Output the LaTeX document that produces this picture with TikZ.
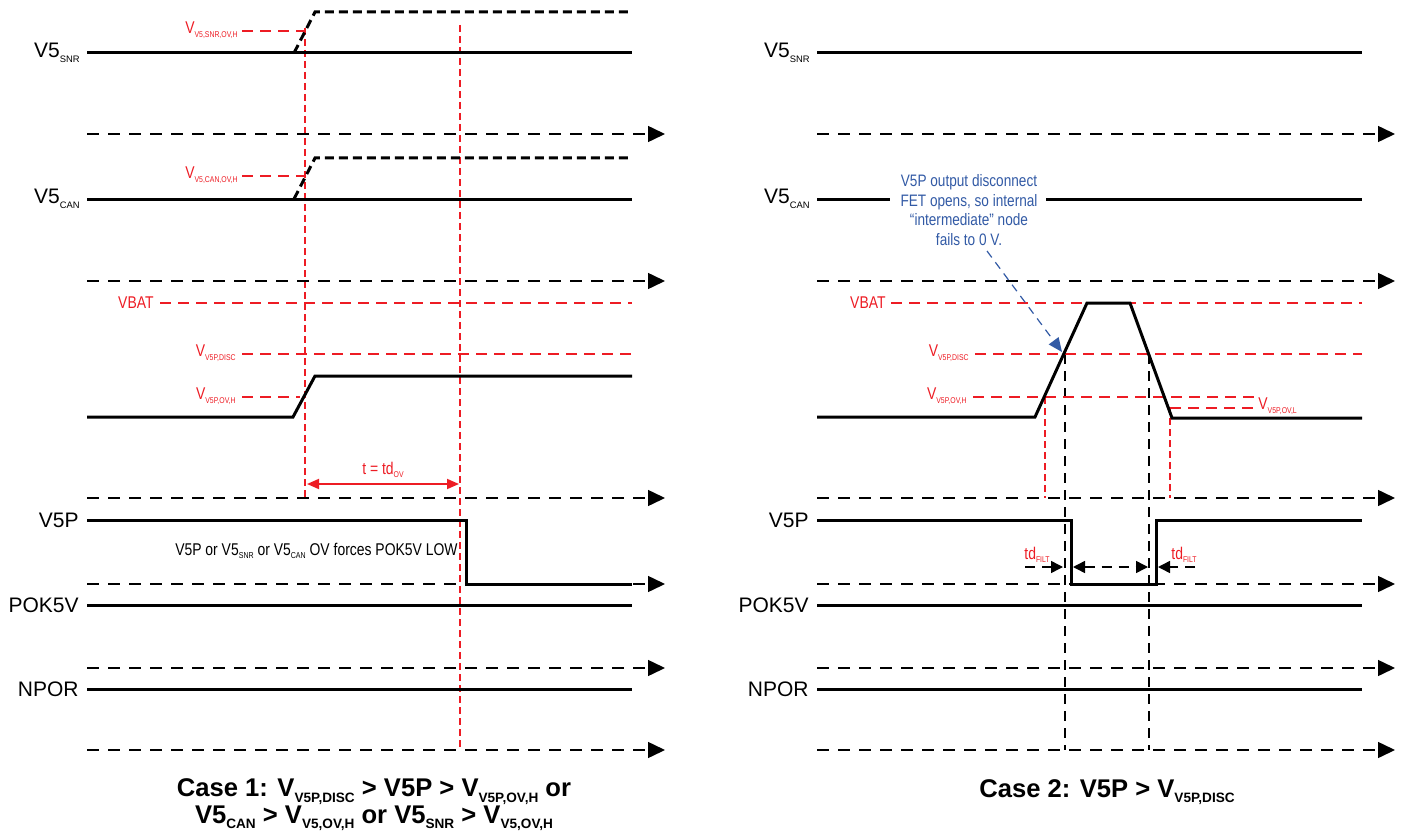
\documentclass[tikz,border=0pt]{standalone}
\usepackage{fontspec}
\setmainfont{Liberation Sans}
\newfontfamily\nfont[FakeStretch=0.82]{Liberation Sans}
\usetikzlibrary{arrows.meta}
\definecolor{tired}{RGB}{237,28,36}
\definecolor{tiblue}{RGB}{50,90,165}
\newcommand{\sbs}[2]{\raisebox{-0.4ex}{\fontsize{#1}{#1}\selectfont #2}}
\tikzset{
  sig/.style={line width=1.5pt, black},
  axis/.style={line width=0.75pt, dash pattern=on 6pt off 4.5pt, -{Triangle[length=8.5pt,width=8pt]}},
  hidash/.style={line width=1.5pt, dash pattern=on 4.5pt off 2.5pt},
  rlev/.style={tired, line width=0.6pt, dash pattern=on 5.5pt off 3.5pt},
  rvert/.style={tired, line width=0.6pt, dash pattern=on 3.5pt off 2pt},
  bvert/.style={line width=0.75pt, dash pattern=on 5pt off 3.5pt},
  siglbl/.style={anchor=east, font=\fontsize{10.5}{10.5}\selectfont, inner sep=0pt},
  rlbl/.style={anchor=east, text=tired, font=\nfont\fontsize{8.5}{8.5}\selectfont, inner sep=0pt},
  rtri/.tip={Triangle[length=6pt,width=5pt]},
  btri/.tip={Triangle[length=6pt,width=6pt]}
}
\begin{document}
\begin{tikzpicture}[x=0.5pt,y=-0.5pt]
\useasboundingbox (0,0) rectangle (1403,840);

% ================= LEFT PANEL =================
\node[siglbl] (lsnr) at (80,53) {V5\sbs{4.7}{SNR}};
\node[siglbl] (lcan) at (80,199) {V5\sbs{4.7}{CAN}};
\node[siglbl] (lv5p) at (79,520) {V5P};
\node[siglbl] (lpok) at (79,605) {POK5V};
\node[siglbl] (lnpor) at (79,689) {NPOR};

% red verticals
\draw[rvert] (305,28) -- (305,498);
\draw[rvert] (460,25) -- (460,750);

% axes
\foreach \yy in {134,281,498,584,668,750}
  \draw[axis] (87,\yy) -- (665,\yy);

% V5 SNR
\draw[sig] (87,53) -- (632,53);
\draw[hidash] (294,53) -- (315,12) -- (632,12);
\node[rlbl] (lsnrth) at (238,30) {V\sbs{4.2}{V5,SNR,OV,H}};
\draw[rlev] (242,31) -- (305,31);

% V5 CAN
\draw[sig] (87,199) -- (632,199);
\draw[hidash] (294,199) -- (315,158) -- (632,158);
\node[rlbl] (lcanth) at (238,175) {V\sbs{4.2}{V5,CAN,OV,H}};
\draw[rlev] (242,176) -- (305,176);

% V5P analog
\node[rlbl] (lvbat) at (154,303) {VBAT};
\draw[rlev] (160,303) -- (632,303);
\node[rlbl] (ldisc) at (236,353) {V\sbs{4.2}{V5P,DISC}};
\draw[rlev] (242,354) -- (632,354);
\node[rlbl] (lovh) at (236,396) {V\sbs{4.2}{V5P,OV,H}};
\draw[rlev] (242,397) -- (300,397);
\draw[sig] (87,417) -- (293,417) -- (315,376) -- (632,376);

% td OV
\node[text=tired, font=\nfont\fontsize{8.5}{8.5}\selectfont, inner sep=0pt] (ltdov) at (383,470) {t = td\sbs{4.2}{OV}};
\draw[tired, line width=0.9pt, {rtri}-{rtri}] (307,484) -- (459,484);

% V5P digital
\draw[sig] (87,520) -- (466,520) -- (466,584) -- (632,584);
\node[anchor=east, font=\nfont\fontsize{8.5}{9}\selectfont, inner sep=0pt] (lforce) at (458,551) {V5P or V5\sbs{4.3}{SNR} or V5\sbs{4.3}{CAN} OV forces POK5V LOW};

% POK5V, NPOR
\draw[sig] (87,605) -- (632,605);
\draw[sig] (87,689) -- (632,689);

% caption 1
\node[font=\bfseries\fontsize{12.8}{13.2}\selectfont, align=center, inner sep=0pt] (cap1) at (374,805) {Case 1: V\sbs{6.8}{V5P,DISC} > V5P > V\sbs{6.8}{V5P,OV,H} or\\V5\sbs{6.8}{CAN} > V\sbs{6.8}{V5,OV,H} or V5\sbs{6.8}{SNR} > V\sbs{6.8}{V5,OV,H}};

% ================= RIGHT PANEL =================
\node[siglbl] (rsnr) at (810,53) {V5\sbs{4.7}{SNR}};
\node[siglbl] (rcan) at (810,199) {V5\sbs{4.7}{CAN}};
\node[siglbl] (rv5p) at (809,520) {V5P};
\node[siglbl] (rpok) at (809,605) {POK5V};
\node[siglbl] (rnpor) at (809,689) {NPOR};

\foreach \yy in {134,281,498,584,668,750}
  \draw[axis] (817,\yy) -- (1395,\yy);

% black dashed verticals
\draw[bvert] (1065,354) -- (1065,750);
\draw[bvert] (1149,354) -- (1149,750);
% red verticals
\draw[rvert] (1045,397) -- (1045,498);
\draw[rvert] (1170,407) -- (1170,498);

\draw[sig] (817,53) -- (1362,53);
\draw[sig] (817,199) -- (890,199);
\draw[sig] (1046,199) -- (1362,199);

\node[align=center, text=tiblue, font=\nfont\fontsize{8.3}{9.7}\selectfont, inner sep=0pt] (note) at (969,210) {V5P output disconnect\\FET opens, so internal\\“intermediate” node\\fails to 0 V.};

\node[rlbl] (rvbat) at (886,303) {VBAT};
\draw[rlev] (891,303) -- (1362,303);
\node[rlbl] (rdisc) at (969,353) {V\sbs{4.2}{V5P,DISC}};
\draw[rlev] (975,354) -- (1362,354);
\node[rlbl] (rovh) at (967,396) {V\sbs{4.2}{V5P,OV,H}};
\draw[rlev] (973,397) -- (1255,397);
\draw[rlev] (1170,408) -- (1255,408);
\node[rlbl, anchor=west] (rovl) at (1258,406) {V\sbs{4.2}{V5P,OV,L}};

\draw[sig] (817,417) -- (1035,417) -- (1087,303) -- (1130,303) -- (1172,418) -- (1362,418);

\coordinate (nstart) at (987,251);
\coordinate (ntip) at (1062,352);
\draw[tiblue, line width=0.6pt, dash pattern=on 4pt off 3pt, -{Triangle[length=7pt,width=6pt]}] (nstart) -- (ntip);

% V5P digital
\draw[sig] (817,520) -- (1071,520) -- (1071,584) -- (1156,584) -- (1156,520) -- (1362,520);

% tdFILT
\draw[bvert, -{btri}] (1025,567) -- (1063,567);
\draw[bvert, {btri}-{btri}] (1073,567) -- (1148,567);
\draw[bvert, -{btri}] (1195,567) -- (1158,567);
\node[rlbl, anchor=west] (rtdf1) at (1024,555) {td\sbs{4.2}{FILT}};
\node[rlbl, anchor=west] (rtdf2) at (1171,555) {td\sbs{4.2}{FILT}};

\draw[sig] (817,605) -- (1362,605);
\draw[sig] (817,689) -- (1362,689);

\node[font=\bfseries\fontsize{12.8}{13.2}\selectfont, inner sep=0pt] (cap2) at (1107,792) {Case 2: V5P > V\sbs{6.8}{V5P,DISC}};
\end{tikzpicture}
\end{document}
